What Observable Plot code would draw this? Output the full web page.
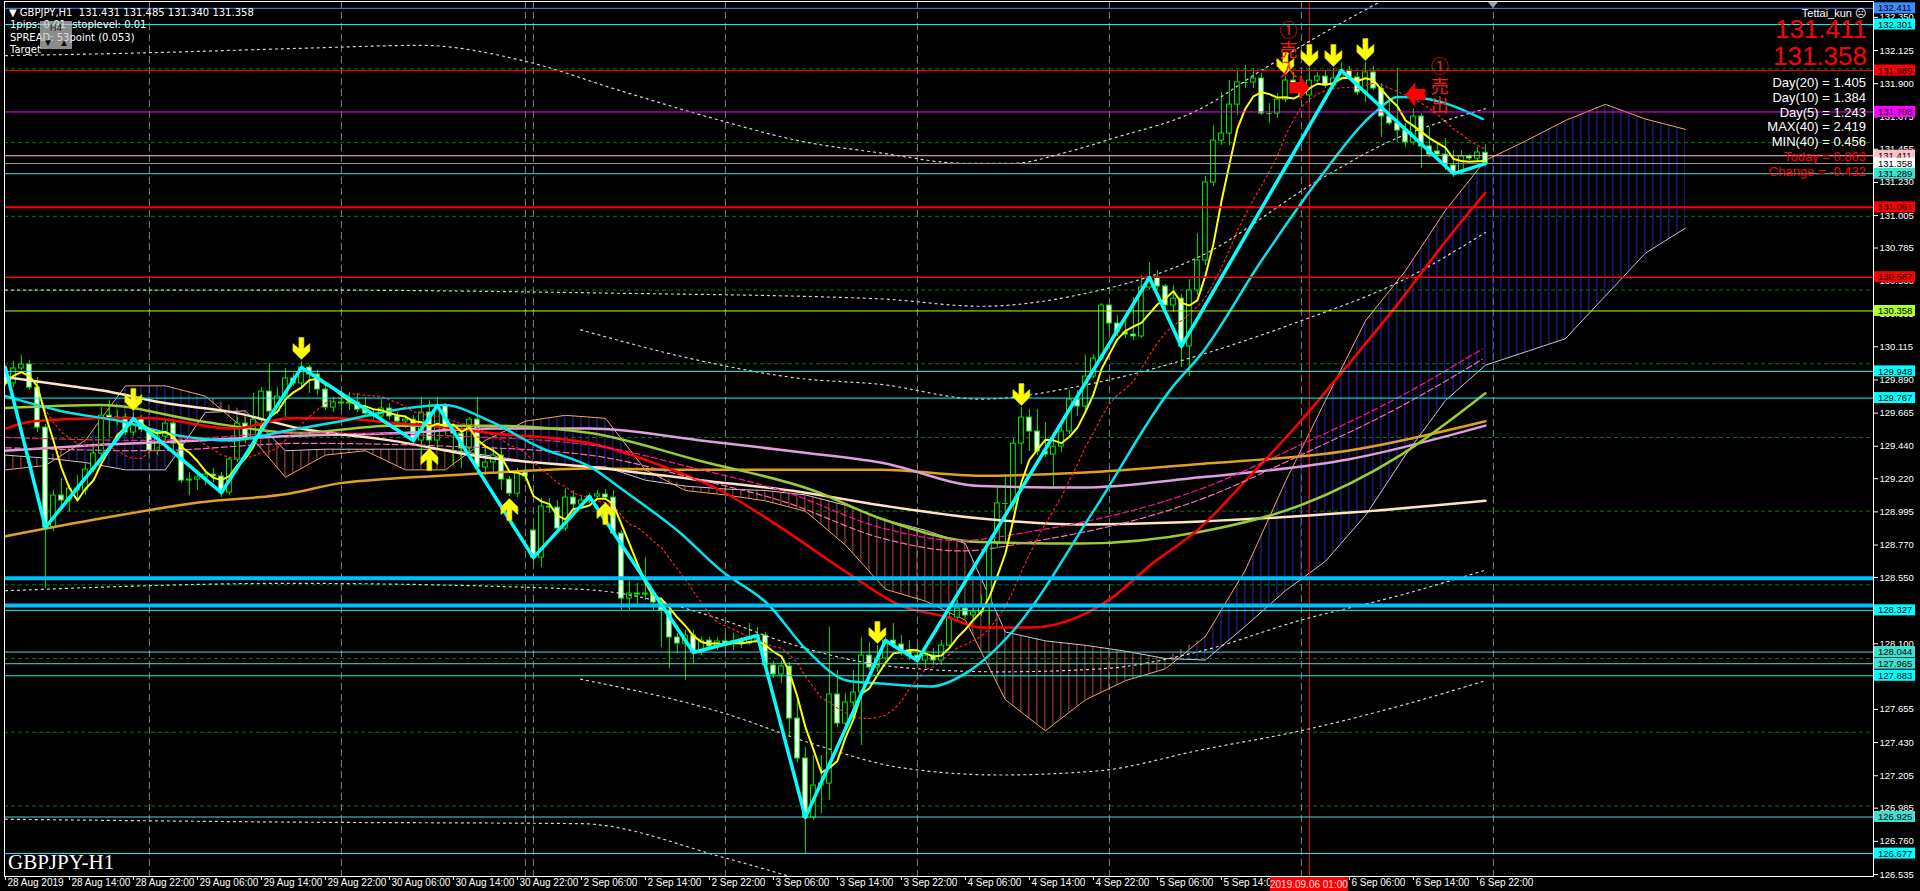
<!DOCTYPE html>
<html><head><meta charset="utf-8">
<script src="https://cdn.jsdelivr.net/npm/d3@7"></script>
<script src="https://cdn.jsdelivr.net/npm/@observablehq/plot@0.6"></script>
<style>
html,body{margin:0;padding:0;background:#000;overflow:hidden}
#chart svg{display:block}
</style></head><body><div id="chart"></div>
<script>
// ---------------- DATA ----------------
const opens = [129.940,129.866,129.968,129.995,129.838,129.567,128.889,129.106,129.072,129.153,
129.140,129.282,129.391,129.648,129.628,129.635,129.533,129.628,129.553,129.411,
129.506,129.594,129.458,129.207,129.214,129.228,129.248,129.235,129.126,129.350,
129.594,129.485,129.621,129.811,129.676,129.777,129.900,129.866,129.974,129.927,
129.825,129.703,129.737,129.730,129.737,129.689,129.662,129.642,129.696,129.642,
129.608,129.621,129.479,129.669,129.479,129.716,129.546,129.526,129.425,129.621,
129.296,129.330,129.377,129.214,129.119,129.262,128.868,128.685,129.031,129.024,
128.882,129.092,129.045,129.072,129.099,129.113,129.092,128.848,128.407,128.441,
128.434,128.441,128.380,128.326,128.143,128.102,128.156,128.041,128.122,128.082,
128.116,128.095,128.116,128.102,128.129,128.156,127.953,127.892,127.946,127.593,
127.322,126.921,127.139,127.152,127.756,127.559,127.702,127.770,128.020,127.939,
128.000,128.122,128.095,128.054,128.020,127.987,128.020,127.987,128.088,128.278,
128.339,128.292,128.312,128.366,128.780,129.052,129.052,129.458,129.635,129.540,
129.404,129.384,129.438,129.540,129.757,129.710,129.913,130.035,130.395,130.273,
130.212,130.198,130.185,130.517,130.585,130.524,130.395,130.442,130.117,130.497,
130.700,131.229,131.514,131.562,131.758,131.908,131.908,131.935,131.697,131.697,
131.792,131.921,131.887,131.820,131.921,131.948,131.887,131.935,131.989,131.942,
131.840,131.976,131.867,131.677,131.630,131.582,131.501,131.677,131.474,131.440,
131.419,131.345,131.290,131.406,131.392,131.431];
const highs = [129.988,130.015,130.056,130.022,129.907,129.587,129.140,129.221,129.174,129.242,
129.330,129.458,129.703,129.750,129.682,129.662,129.669,129.648,129.560,129.546,
129.614,129.614,129.492,129.262,129.275,129.275,129.289,129.262,129.360,129.635,
129.635,129.798,129.838,130.002,129.838,129.968,129.934,130.015,129.988,129.954,
129.852,129.771,129.764,129.805,129.798,129.771,129.682,129.757,129.730,129.669,
129.648,129.648,129.771,129.750,129.771,129.730,129.560,129.567,129.635,129.771,
129.425,129.431,129.425,129.235,129.289,129.289,128.902,129.086,129.086,129.072,
129.153,129.140,129.106,129.119,129.140,129.146,129.140,128.868,128.523,128.509,
128.685,128.461,128.414,128.346,128.170,128.190,128.190,128.143,128.143,128.143,
128.170,128.170,128.143,128.238,128.211,128.177,127.980,127.980,127.973,127.736,
127.396,127.342,127.342,128.211,127.919,127.763,127.919,128.143,128.109,128.088,
128.143,128.238,128.156,128.122,128.088,128.054,128.068,128.122,128.312,128.394,
128.373,128.339,128.434,128.801,129.160,129.248,129.493,129.703,129.689,129.689,
129.601,129.533,129.581,129.818,129.818,130.056,130.062,130.408,130.402,130.327,
130.293,130.449,130.599,130.687,130.632,130.537,130.531,130.470,130.571,130.883,
131.270,131.616,131.840,131.921,131.989,132.023,132.003,131.969,131.765,131.833,
131.948,131.976,131.955,132.003,131.976,131.989,132.003,132.043,132.016,131.976,
132.043,132.016,131.901,131.786,132.003,131.630,131.731,131.697,131.602,131.494,
131.528,131.446,131.446,131.419,131.467,131.485];
const lows = [129.845,129.838,129.954,129.818,129.532,128.475,128.860,129.004,128.991,129.072,
129.106,129.262,129.370,129.499,129.580,129.512,129.506,129.533,129.391,129.377,
129.479,129.391,129.187,129.106,129.140,129.174,129.194,129.092,129.106,129.330,
129.458,129.465,129.601,129.648,129.655,129.635,129.845,129.832,129.798,129.784,
129.682,129.669,129.682,129.682,129.669,129.635,129.614,129.628,129.614,129.574,
129.560,129.445,129.350,129.438,129.425,129.512,129.303,129.289,129.398,129.255,
129.242,129.262,129.140,129.099,129.092,129.207,128.645,128.617,128.984,128.848,
128.862,129.018,129.018,129.052,129.072,129.072,128.834,128.326,128.326,128.346,
128.394,128.326,128.075,127.932,128.034,127.851,127.966,128.020,128.054,128.054,
128.054,128.054,128.068,128.088,128.102,127.932,127.864,127.831,127.464,127.294,
126.677,126.901,126.948,127.037,127.532,127.512,127.580,127.410,127.919,127.905,
127.987,128.068,128.020,127.987,127.953,127.932,127.953,127.953,128.068,128.258,
128.278,128.271,128.285,128.224,128.746,128.780,129.004,129.316,129.404,129.377,
129.364,129.147,129.398,129.520,129.642,129.662,129.900,130.022,130.212,130.185,
130.171,130.158,130.171,130.497,130.497,130.361,130.347,129.974,129.913,130.463,
130.666,131.202,131.480,131.480,131.684,131.867,131.867,131.684,131.630,131.664,
131.772,131.853,131.799,131.772,131.908,131.867,131.881,131.921,131.921,131.820,
131.772,131.853,131.535,131.616,131.501,131.467,131.480,131.324,131.399,131.392,
131.311,131.263,131.277,131.379,131.365,131.340];
const closes = [129.866,129.968,129.995,129.838,129.567,128.889,129.106,129.072,129.153,129.140,
129.282,129.391,129.648,129.628,129.635,129.533,129.628,129.553,129.411,129.506,
129.594,129.458,129.207,129.214,129.228,129.248,129.235,129.126,129.350,129.594,
129.485,129.621,129.811,129.676,129.777,129.900,129.866,129.974,129.927,129.825,
129.703,129.737,129.730,129.737,129.689,129.662,129.642,129.696,129.642,129.608,
129.621,129.479,129.669,129.479,129.716,129.546,129.526,129.425,129.621,129.296,
129.330,129.377,129.214,129.119,129.262,129.235,128.685,129.031,129.024,128.882,
129.092,129.045,129.072,129.099,129.113,129.092,128.848,128.407,128.441,128.434,
128.441,128.380,128.326,128.143,128.102,128.156,128.041,128.122,128.082,128.116,
128.095,128.116,128.102,128.129,128.156,127.953,127.892,127.946,127.593,127.322,
126.921,127.139,127.152,127.756,127.559,127.702,127.770,128.020,127.939,128.000,
128.122,128.095,128.054,128.020,127.987,128.020,127.987,128.088,128.278,128.339,
128.292,128.312,128.366,128.780,129.052,129.052,129.458,129.635,129.540,129.404,
129.384,129.438,129.540,129.757,129.710,129.913,130.035,130.395,130.273,130.212,
130.198,130.185,130.517,130.585,130.524,130.395,130.442,130.117,130.497,130.700,
131.229,131.514,131.562,131.758,131.908,131.908,131.935,131.697,131.697,131.792,
131.921,131.887,131.820,131.921,131.948,131.887,131.935,131.989,131.942,131.840,
131.976,131.867,131.677,131.630,131.582,131.501,131.677,131.474,131.419,131.419,
131.345,131.290,131.406,131.392,131.433,131.358];

const xTickIdx = [0,8,16,24,32,40,48,56,64,72,80,88,96,104,112,120,128,136,144,152,160,168,176,184];
const xLabelIdx = [0,8,16,24,32,40,48,56,64,72,80,88,96,104,112,120,128,136,144,152,168,176,184];
const xTickLabels = ["28 Aug 2019","28 Aug 14:00","28 Aug 22:00","29 Aug 06:00","29 Aug 14:00","29 Aug 22:00",
 "30 Aug 06:00","30 Aug 14:00","30 Aug 22:00","2 Sep 06:00","2 Sep 14:00","2 Sep 22:00","3 Sep 06:00",
 "3 Sep 14:00","3 Sep 22:00","4 Sep 06:00","4 Sep 14:00","4 Sep 22:00","5 Sep 06:00","5 Sep 14:00",
 "6 Sep 06:00","6 Sep 14:00","6 Sep 22:00"];
const yTicks = [132.350,132.125,131.900,131.675,131.455,131.230,131.005,130.785,130.560,130.335,130.115,
 129.890,129.665,129.440,129.220,128.995,128.770,128.550,128.325,128.100,127.880,127.655,127.430,
 127.205,126.985,126.760,126.535];
const roundLevels = [127,127.5,128,128.5,129,129.5,130,130.5,131,131.5,132];
const dayStarts = [18,42,65,66,90,114,138,162,186];
const cursorIdx = 163;
const cursorLabel = "2019.09.06 01:00";

const levelPrices = [132.411,132.301,131.989,131.708,131.411,131.358,131.289,131.061,130.587,130.358,
 129.948,129.767,128.545,128.360,128.327,128.044,127.965,127.883,126.925,126.677];

const zigzag = [[0,129.974],[5,128.889],[16,129.628],[27,129.126],[37,129.974],[51,129.479],[54,129.716],
 [66,128.685],[73,129.099],[86,128.041],[94,128.156],[100,126.921],[110,128.122],[114,127.987],
 [143,130.585],[147,130.117],[167,131.989],[181,131.290],[185,131.358]];

const maRed = [[0,129.56],[3.5,129.61],[12,129.63],[18,129.63],[28.5,129.56],[35.6,129.63],[41.9,129.63],
 [48.1,129.60],[53.1,129.58],[60.6,129.53],[73.1,129.46],[81.9,129.31],[89.4,129.14],[96.9,128.89],
 [105.3,128.58],[111.9,128.36],[117.8,128.28],[121.9,128.21],[128.1,128.21],[134.4,128.29],[138.5,128.42],
 [142.8,128.62],[149.4,128.89],[155.6,129.24],[161.9,129.61],[168.1,130.01],[174.4,130.43],[180.6,130.87],[185,131.16]];
const maOrange = [[0,128.83],[11.9,128.95],[24.4,129.06],[35.6,129.12],[41.9,129.19],[48.1,129.22],[54.4,129.24],
 [60.6,129.26],[73.1,129.29],[86.9,129.28],[109.4,129.28],[121.9,129.24],[134.4,129.26],[149.4,129.32],
 [167.8,129.41],[185,129.61]];
const maPlum = [[0,129.41],[11.9,129.45],[24.4,129.48],[35.6,129.51],[49.4,129.53],[60.6,129.56],[73.1,129.56],
 [86.9,129.48],[99.4,129.40],[109.4,129.33],[121.9,129.17],[134.4,129.16],[149.4,129.23],[167.8,129.35],[185,129.58]];
const maCream = [[0,129.91],[7.8,129.85],[11.9,129.82],[20.3,129.73],[28.5,129.67],[36.9,129.56],[48.1,129.48],
 [60.6,129.36],[73.1,129.30],[86.9,129.21],[99.4,129.13],[109.4,129.04],[121.9,128.95],[134.4,128.91],
 [149.4,128.93],[168.1,128.99],[185,129.07]];
const maYellowGreen = [[0,129.70],[11.9,129.72],[24.4,129.61],[36.9,129.53],[48.1,129.58],[60.6,129.58],
 [73.1,129.53],[86.9,129.34],[101,129.14],[109.4,128.95],[121.9,128.79],[134.4,128.78],[149.4,128.86],
 [161.9,129.04],[174.4,129.38],[185,129.80]];
const maCyan = [[0,129.78],[6.9,129.68],[14.4,129.61],[21.9,129.51],[28.1,129.48],[35.6,129.55],[41.9,129.61],
 [50.3,129.70],[54.8,129.72],[60.6,129.61],[66.9,129.43],[73.1,129.30],[77.3,129.14],[84.4,128.85],[89.4,128.60],
 [95.3,128.37],[100.3,128.05],[105.3,127.85],[109.4,127.83],[115.6,127.81],[120.6,127.92],[126,128.19],
 [136,129.00],[146,129.85],[149.4,130.06],[156.9,130.69],[164,131.24],[171.5,131.72],[174,131.81],
 [177.3,131.80],[184.7,131.66]];
const pinkDashA = [[0,129.50],[18,129.48],[37,129.53],[55.6,129.51],[73,129.45],[87,129.28],[97,129.14],
 [110,128.88],[119.4,128.80],[128,128.86],[149.4,129.15],[161.9,129.45],[174.4,129.78],[184.6,130.10]];
const pinkDashB = [[0,129.43],[18,129.41],[37,129.46],[55.6,129.44],[73,129.38],[87,129.21],[97,129.07],
 [110,128.81],[119.4,128.73],[128,128.79],[149.4,129.08],[161.9,129.38],[174.4,129.71],[184.6,130.03]];

const bandU3 = [[0,132.09],[18,132.11],[37,132.14],[52,132.16],[64.4,132.06],[77,131.85],[89.4,131.65],
 [99.4,131.51],[109.4,131.43],[119.8,131.36],[126,131.36],[132.3,131.43],[138.5,131.53],[149.4,131.73],
 [157,131.99],[165.3,132.26],[172,132.46]];
const bandU2 = [[0,130.50],[37,130.50],[74.4,130.48],[109.4,130.44],[121.9,130.39],[134.4,130.47],
 [149.4,130.73],[164,131.24],[173.1,131.51],[183.1,131.70],[185,131.73]];
const bandU1 = [[71.9,130.23],[86.9,130.02],[99.4,129.90],[109.4,129.86],[121.9,129.76],[134.4,129.85],
 [149.4,130.06],[161.9,130.29],[174.4,130.56],[185,130.89]];
const bandL1 = [[0,128.46],[35.6,128.51],[71.9,128.47],[89.8,128.26],[96.9,128.12],[111.9,127.94],
 [124.4,127.91],[136.9,127.93],[149.4,128.05],[161.9,128.26],[174.4,128.43],[185,128.60]];
const bandL2 = [[71.9,127.86],[89.8,127.63],[101,127.42],[111.9,127.26],[124.4,127.21],[136.9,127.24],
 [149.4,127.38],[161.9,127.51],[174.4,127.68],[185,127.85]];
const bandL3 = [[0,126.91],[37,126.89],[71.9,126.88],[89.8,126.65],[96.9,126.54],[105.6,126.39]];

const cloudIdx = [0,5,10,15,20,25,30,35,40,45,50,55,60,65,70,75,80,85,90,95,100,105,110,115,120,125,
 130,135,140,145,150,155,160,165,170,175,180,185,190,195,200,205,210];
const spanA = [129.28,129.31,129.48,129.85,129.85,129.78,129.55,129.23,129.38,129.41,129.28,129.28,129.48,
 129.61,129.65,129.63,129.28,129.14,129.11,129.07,129.00,128.77,128.47,128.39,128.26,127.72,127.51,127.72,
 127.85,127.93,128.15,128.60,129.20,129.75,130.29,130.63,131.04,131.38,131.51,131.65,131.76,131.66,131.59];
const spanB = [129.38,129.36,129.33,129.28,129.28,129.67,129.68,129.41,129.42,129.42,129.42,129.42,129.38,
 129.34,129.31,129.30,129.21,129.17,129.15,129.14,129.11,129.04,128.94,128.87,128.78,128.18,128.12,128.09,
 128.05,128.00,127.99,128.22,128.46,128.66,128.97,129.38,129.75,129.99,130.08,130.17,130.46,130.75,130.92];

const downArrowIdx = [16,37,109,127,160,163,166,170];
const upArrowIdx = [53,63,75];
const entrySignal = [{i:163, p:131.874}];
const exitSignal = [{i:175, p:131.826}];
const signalTexts = [{i:160.4, p:132.125, t:"①\n売\n入"},{i:179.3, p:131.88, t:"①\n売\n出"}];

const symbolTitle = "GBPJPY,H1";
const ohlcText = "131.431 131.485 131.340 131.358";
const headerLines = ["1pips: 0.01  stoplevel: 0.01","SPREAD: 53point (0.053)","Target"];
const bigPrices = ["131.411","131.358"];
const infoWhite = ["Day(20) = 1.405","Day(10) = 1.384","Day(5) = 1.243","MAX(40) = 2.419","MIN(40) = 0.456"];
const infoRed = ["Today = 0.863","Change = -0.432"];
const author = "Tettai_kun";
const chartName = "GBPJPY-H1";

// ---------------- STYLES ----------------
const levelStyle = [
 {c:"#3c8cff",w:1,box:"#3c8cff"},{c:"#00ffff",w:1,box:"#00ffff"},{c:"#ff0000",w:1,box:"#ff0000"},
 {c:"#ff00ff",w:1,box:"#ff00ff"},{c:"#ffc0cb",w:1,box:"#ffc0cb"},{c:"#9a9a9a",w:1,box:"#ffffff"},
 {c:"#40e0d0",w:1,box:"#40e0d0"},{c:"#ff0000",w:2,box:"#ff0000"},{c:"#ff0000",w:1.5,box:"#ff0000"},
 {c:"#adff2f",w:1,box:"#adff2f"},{c:"#00ffff",w:1,box:"#00ffff"},{c:"#00ffff",w:1,box:"#00ffff"},
 {c:"#00bfff",w:4,box:null},{c:"#00bfff",w:4,box:null},{c:"#00ffff",w:1,box:"#00ffff"},
 {c:"#40e0d0",w:1,box:"#40e0d0"},{c:"#40e0d0",w:1,box:"#40e0d0"},{c:"#00ffff",w:1,box:"#00ffff"},
 {c:"#40e0d0",w:1,box:"#40e0d0"},{c:"#00ffff",w:1,box:"#00ffff"}];
const GREEN = "#00e600";

// ---------------- BUILD ----------------
const bars = closes.map((c,i)=>({i,o:opens[i],h:highs[i],l:lows[i],c}));
const bear = bars.filter(d=>d.c<d.o-0.002);
const bull = bars.filter(d=>d.c>d.o+0.002);
const doji = bars.filter(d=>Math.abs(d.c-d.o)<=0.002);
const levels = levelPrices.map((p,k)=>({p,...levelStyle[k]}));
const cloud = cloudIdx.map((i,k)=>({i,a:spanA[k],b:spanB[k],top:Math.max(spanA[k],spanB[k])}));
const xt = xLabelIdx.map((i,k)=>({i,label:xTickLabels[k]}));
const pts = arr => arr.map(([i,p])=>({i,p}));

const arrowDown = {draw(c){c.moveTo(-2.5,-22);c.lineTo(2.5,-22);c.lineTo(2.5,-11);c.lineTo(8.5,-16);c.lineTo(8.5,-8.5);
 c.lineTo(0,0);c.lineTo(-8.5,-8.5);c.lineTo(-8.5,-16);c.lineTo(-2.5,-11);c.closePath();}};
const arrowUp = {draw(c){c.moveTo(-2.5,22);c.lineTo(2.5,22);c.lineTo(2.5,11);c.lineTo(8.5,16);c.lineTo(8.5,8.5);
 c.lineTo(0,0);c.lineTo(-8.5,8.5);c.lineTo(-8.5,16);c.lineTo(-2.5,11);c.closePath();}};
const blockRight = {draw(c){c.moveTo(-20,-5.5);c.lineTo(-10,-5.5);c.lineTo(-10,-12.5);c.lineTo(0,0);c.lineTo(-10,12.5);
 c.lineTo(-10,5.5);c.lineTo(-20,5.5);c.closePath();}};
const blockLeft = {draw(c){c.moveTo(20,-5.5);c.lineTo(10,-5.5);c.lineTo(10,-12.5);c.lineTo(0,0);c.lineTo(10,12.5);
 c.lineTo(10,5.5);c.lineTo(20,5.5);c.closePath();}};

const L = (data, stroke, w, extra={}) => Plot.line(pts(data), {x:"i", y:"p", stroke, strokeWidth:w, curve:"monotone-x", clip:true, ...extra});

const plot = Plot.plot({
  width:1920, height:891,
  marginLeft:4, marginRight:47, marginTop:1, marginBottom:15,
  style:{background:"#000", color:"#fff", fontFamily:"Liberation Sans, Arial, sans-serif", fontSize:"9.5px", overflow:"visible"},
  x:{type:"linear", domain:[0,100], range:[4.9,804.9]},
  y:{type:"linear", domain:[126.535,132.125], range:[874,50]},
  marks:[
    Plot.ruleY(roundLevels, {stroke:"#0c780c", strokeDasharray:"4,3", clip:true}),
    Plot.ruleX(dayStarts, {stroke:"#808080", strokeDasharray:"7,4", clip:true}),
    Plot.areaY(cloud, {x:"i", y1:"b", y2:"top", fill:"url(#hatchBlue)", clip:true}),
    Plot.areaY(cloud, {x:"i", y1:"a", y2:"top", fill:"url(#hatchRed)", clip:true}),
    Plot.line(cloud, {x:"i", y:"a", stroke:"#f4a460", strokeWidth:1, clip:true}),
    Plot.line(cloud, {x:"i", y:"b", stroke:"#d8bfd8", strokeWidth:1, clip:true}),
    Plot.ruleX([cursorIdx], {stroke:"#ff0000", clip:true}),
    // candles
    Plot.ruleX(bars, {x:"i", y1:"l", y2:"h", stroke:GREEN, clip:true}),
    Plot.rect(bear, {x1:d=>d.i-0.3, x2:d=>d.i+0.3, y1:"o", y2:"c", fill:"#fff", stroke:GREEN, clip:true}),
    Plot.rect(bull, {x1:d=>d.i-0.3, x2:d=>d.i+0.3, y1:"o", y2:"c", fill:"#000", stroke:GREEN, clip:true}),
    Plot.ruleY(doji, {y:"c", x1:d=>d.i-0.35, x2:d=>d.i+0.35, stroke:GREEN, clip:true}),
    // dotted bands
    ...[bandU3,bandU2,bandU1,bandL1,bandL2,bandL3].map(b=>L(b,"#d8d8d8",1.2,{strokeDasharray:"2,4"})),
    // long moving averages
    L(maOrange,"#e0a020",2.5),
    L(maPlum,"#dda0dd",2.5),
    L(maCream,"#ffe4c4",2.5),
    L(maYellowGreen,"#9acd32",2.5),
    L(maRed,"#ff0000",2.5),
    L(pinkDashA,"#ff1493",1.2,{strokeDasharray:"6,3"}),
    L(pinkDashB,"#ff69b4",1.2,{strokeDasharray:"6,3"}),
    L(maCyan,"#00e5ee",2.5),
    Plot.lineY(bars, Plot.windowY({k:13, anchor:"end", reduce:"mean"}, {x:"i", y:"c", stroke:"#ff2020", strokeWidth:1.2, strokeDasharray:"2,3", clip:true})),
    Plot.lineY(bars, Plot.windowY({k:5, anchor:"end", reduce:"mean"}, {x:"i", y:"c", stroke:"#ffff00", strokeWidth:2, clip:true})),
    // horizontal levels
    Plot.ruleY(levels, {y:"p", stroke:"c", strokeWidth:"w", clip:true}),
    // zigzag
    Plot.line(pts(zigzag), {x:"i", y:"p", stroke:"#00ffff", strokeWidth:3.5, clip:true}),
    // arrows
    Plot.dot(downArrowIdx.map(i=>bars[i]), {x:"i", y:"h", symbol:arrowDown, fill:"#ffff00", stroke:"#d4d400", strokeWidth:0.6, dy:-2}),
    Plot.dot(upArrowIdx.map(i=>bars[i]), {x:"i", y:"l", symbol:arrowUp, fill:"#ffff00", stroke:"#d4d400", strokeWidth:0.6, dy:2}),
    Plot.dot(entrySignal, {x:"i", y:"p", symbol:blockRight, fill:"#ff0000", stroke:"none"}),
    Plot.dot(exitSignal, {x:"i", y:"p", symbol:blockLeft, fill:"#ff0000", stroke:"none"}),
    Plot.text(signalTexts, {x:"i", y:"p", text:"t", fill:"#ff1a1a", fontSize:18, lineHeight:1.08, fontFamily:"Noto Sans CJK JP, sans-serif"}),
    // axes
    Plot.axisY({anchor:"right", ticks:yTicks, tickFormat:d=>d.toFixed(3), tickSize:4, tickPadding:2, label:null}),
    Plot.axisX({anchor:"bottom", ticks:xTickIdx, tickFormat:()=>"", tickSize:4, label:null}),
    Plot.text(xt, {x:"i", text:"label", frameAnchor:"bottom", dy:9, dx:2, textAnchor:"start", fill:"#fff", fontFamily:"Liberation Sans Narrow, Liberation Sans, Arial, sans-serif", fontSize:10}),
    Plot.frame({stroke:"#fff"})
  ]
});
document.getElementById("chart").appendChild(plot);

// ---------------- overlays via scales ----------------
const xs = plot.scale("x"), ys = plot.scale("y");
const X = v => xs.apply(v), Y = v => ys.apply(v);
const svg = d3.select(plot);
const defs = svg.insert("defs", ":first-child");
function hatch(id, color){
  const w = X(1)-X(0);
  const p = defs.append("pattern").attr("id",id).attr("patternUnits","userSpaceOnUse")
    .attr("x",X(0)-0.5).attr("y",0).attr("width",w).attr("height",10);
  p.append("line").attr("x1",0.5).attr("x2",0.5).attr("y1",0).attr("y2",10).attr("stroke",color).attr("stroke-width",1);
}
hatch("hatchBlue","#2a2aa8");
hatch("hatchRed","#b0503c");

// level labels on the price axis
const gb = svg.append("g").attr("font-family","Liberation Sans, Arial, sans-serif").attr("font-size",9.5).attr("text-anchor","start");
levels.forEach(l=>{
  if(!l.box) return;
  const y = Y(l.p);
  gb.append("rect").attr("x",1874).attr("y",y-5.5).attr("width",41).attr("height",11).attr("fill",l.box);
  gb.append("text").attr("x",1878).attr("y",y+3.6).attr("fill","#000").text(l.p.toFixed(3));
});
// cursor time label
const cx = X(cursorIdx);
gb.append("rect").attr("x",cx-39).attr("y",877).attr("width",78).attr("height",14).attr("fill","#ff0000");
gb.append("text").attr("x",cx).attr("y",888).attr("text-anchor","middle").attr("fill","#ffe0e0")
  .attr("font-family","Liberation Sans Narrow, Liberation Sans, Arial, sans-serif").attr("font-size",10).text(cursorLabel);
// chart shift marker
svg.append("path").attr("d",`M${X(186)-5},2L${X(186)+5},2L${X(186)},8Z`).attr("fill","#a0a0a0");

// header
const gh = svg.append("g").attr("font-family","DejaVu Sans, sans-serif").attr("font-size",10).attr("fill","#fff").attr("text-anchor","start");
gh.append("text").attr("x",9).attr("y",16).text("▼ " + symbolTitle + "  " + ohlcText);
headerLines.forEach((t,k)=>gh.append("text").attr("x",10).attr("y",28+k*12.5).text(t));
const btn = svg.append("g").attr("text-anchor","middle");
btn.append("rect").attr("x",40).attr("y",21).attr("width",32).attr("height",28).attr("fill","#c8c8c8").attr("opacity",0.7);
btn.append("text").attr("x",56).attr("y",31).attr("font-size",9).attr("font-family","DejaVu Sans, sans-serif").attr("fill","#222").text("H4");
btn.append("text").attr("x",48).attr("y",46).attr("font-size",10).attr("fill","#111").text("▼");
btn.append("text").attr("x",64).attr("y",46).attr("font-size",10).attr("fill","#111").text("▲");

// info panel
const gi = svg.append("g").attr("font-family","Liberation Sans, Arial, sans-serif").attr("text-anchor","end");
gi.append("text").attr("x",1866).attr("y",17).attr("font-size",11).attr("fill","#fff").text(author + " ☹");
bigPrices.forEach((t,k)=>gi.append("text").attr("x",1867).attr("y",38+k*27).attr("font-size",26).attr("fill","#ff0000").text(t));
infoWhite.forEach((t,k)=>gi.append("text").attr("x",1866).attr("y",87+k*14.8).attr("font-size",13).attr("fill","#fff").text(t));
infoRed.forEach((t,k)=>gi.append("text").attr("x",1866).attr("y",161+k*15).attr("font-size",13).attr("fill","#ff0000").text(t));

// chart name
svg.append("text").attr("x",8).attr("y",869).attr("text-anchor","start").attr("font-family","Liberation Serif, DejaVu Serif, serif")
  .attr("font-size",21).attr("fill","#fff").text(chartName);
</script></body></html>
